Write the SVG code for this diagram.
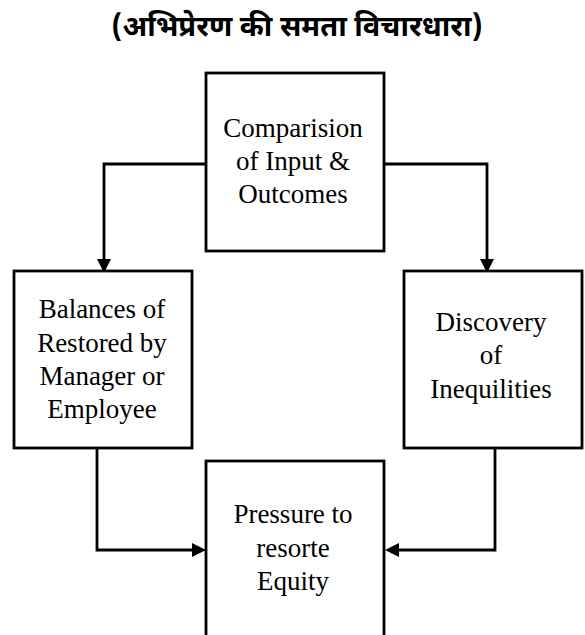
<svg xmlns="http://www.w3.org/2000/svg" width="585" height="635" viewBox="0 0 585 635">
<style>
.box{fill:#fff;stroke:#000;stroke-width:2.8}
.con{fill:none;stroke:#000;stroke-width:2.8}
</style>
<defs>
<marker id="arr" markerUnits="userSpaceOnUse" markerWidth="14" markerHeight="14" refX="0" refY="6.5" orient="auto" viewBox="0 0 13 13">
<path d="M0,0 L13,6.5 L0,13 Z" fill="#000"/>
</marker>
</defs>
<rect width="585" height="635" fill="#fff"/>
<text x="297" y="36" font-family="Noto Sans Devanagari, Noto Sans, sans-serif" font-size="29" font-weight="bold" text-anchor="middle" fill="#000">(अभिप्रेरण की समता विचारधारा)</text>
<g id="connectors">
<path class="con" d="M206,164 H104 V259" marker-end="url(#arr)"/>
<path class="con" d="M384,164 H487 V259" marker-end="url(#arr)"/>
<path class="con" d="M97,448 V550 H192" marker-end="url(#arr)"/>
<path class="con" d="M495,448 V550 H399" marker-end="url(#arr)"/>
</g>
<g font-family="Liberation Serif, Times New Roman, serif" font-size="27" text-anchor="middle" fill="#000">
<g id="node-comparison">
<rect class="box" x="206" y="73" width="178" height="178"/>
<text x="293" y="137">Comparision</text>
<text x="293" y="170">of Input &amp;</text>
<text x="293" y="203">Outcomes</text>
</g>
<g id="node-balances">
<rect class="box" x="14" y="271" width="178" height="177"/>
<text x="102" y="318">Balances of</text>
<text x="102" y="352">Restored by</text>
<text x="102" y="385">Manager or</text>
<text x="102" y="418">Employee</text>
</g>
<g id="node-discovery">
<rect class="box" x="404" y="271" width="178" height="177"/>
<text x="491" y="331">Discovery</text>
<text x="491" y="364">of</text>
<text x="491" y="398">Inequilities</text>
</g>
<g id="node-pressure">
<rect class="box" x="206" y="461" width="178" height="184"/>
<text x="293" y="523">Pressure to</text>
<text x="293" y="557">resorte</text>
<text x="293" y="590">Equity</text>
</g>
</g>
</svg>
